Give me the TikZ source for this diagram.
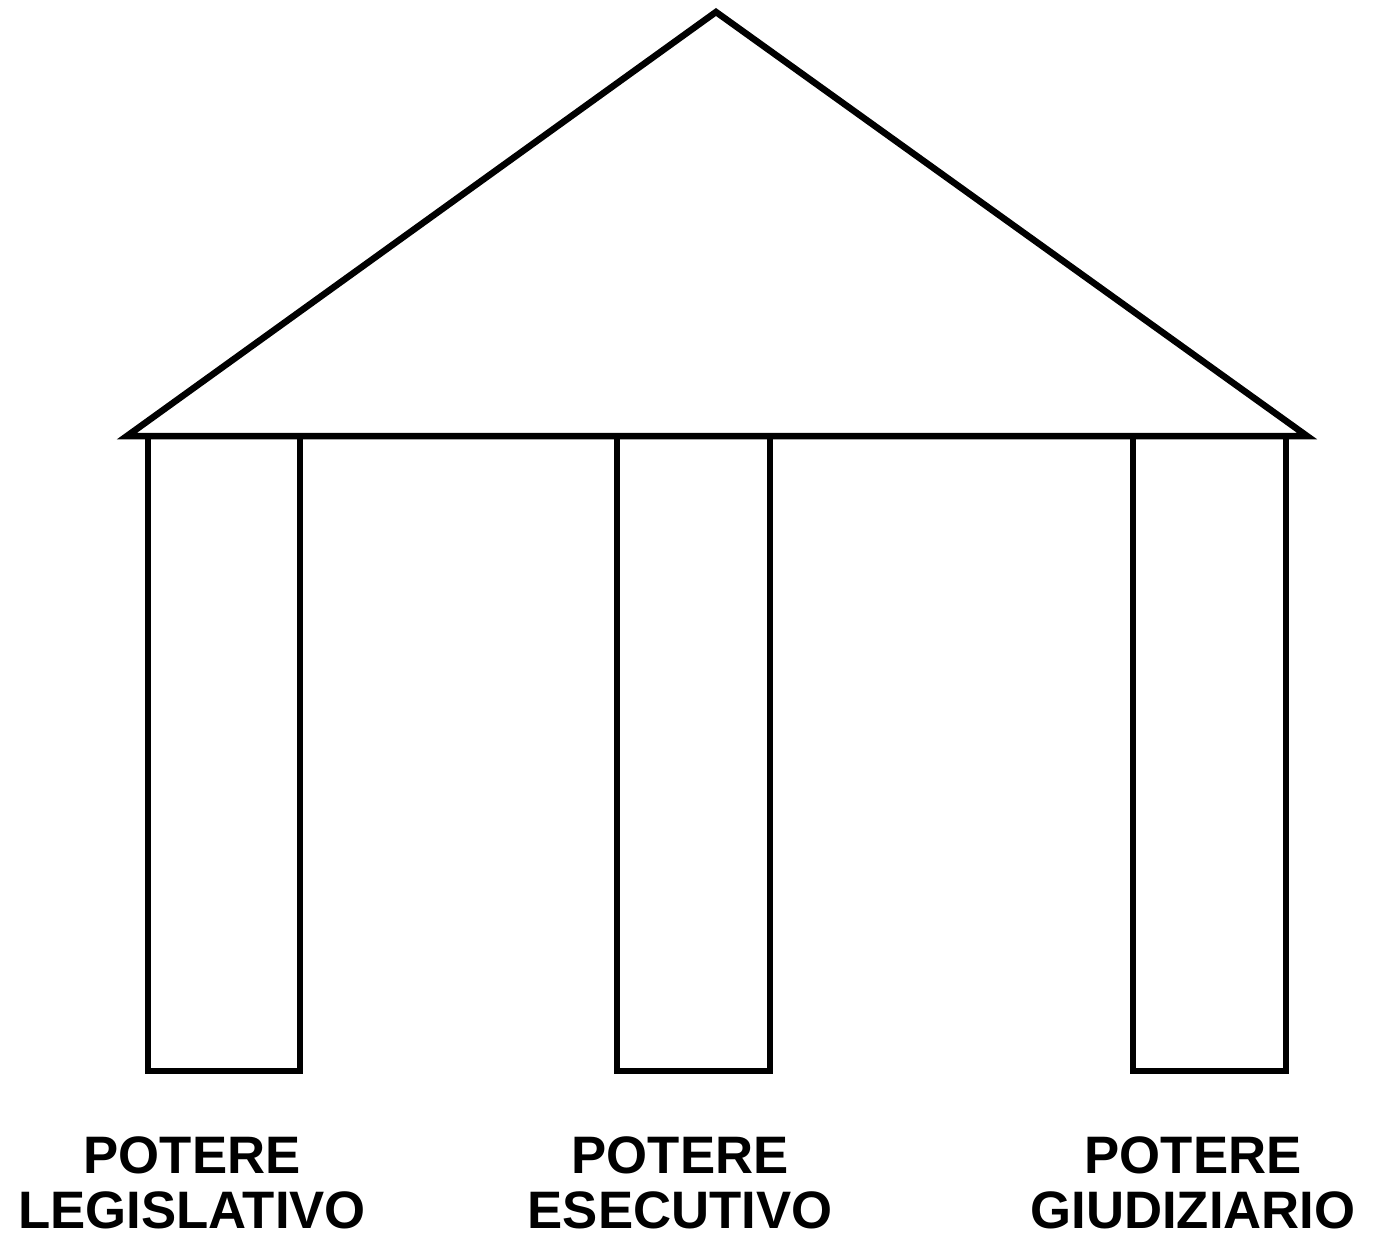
\documentclass[tikz,border=0pt]{standalone}
\usepackage{fontspec}
\setmainfont{Liberation Sans}
\usepackage{tikz}
\usetikzlibrary{positioning}
\definecolor{TempioNero}{RGB}{0,0,0}

\begin{document}
\begin{tikzpicture}[line width=1.85pt, draw=TempioNero,
	etichetta/.style={font=\fontsize{15}{15.6}\selectfont\bfseries, align=center,
		inner sep=0pt, anchor=south, text=TempioNero}]
	\useasboundingbox (0,0) rectangle (13.79,12.34);

	% tetto
	\draw[TempioNero] (1.27,7.98) coordinate (sx) -- (7.16,12.22) coordinate (cima)
		-- (13.07,7.98) coordinate (dx) -- cycle;

	% colonne
	\begin{scope}
		\foreach \xa/\xb in {1.48/3.00, 6.17/7.70, 11.33/12.86}{
			\draw[TempioNero] (\xa,7.98) -- (\xa,1.63) -- (\xb,1.63) -- (\xb,7.98);
		}
	\end{scope}

	% i tre poteri
	\node[etichetta] (leg) at (1.92,0.02) {POTERE\\LEGISLATIVO};
	\node[etichetta] (ese) at (6.80,0.02) {POTERE\\ESECUTIVO};
	\node[etichetta] (giu) at (11.93,0.02) {POTERE\\GIUDIZIARIO};
\end{tikzpicture}
\end{document}
